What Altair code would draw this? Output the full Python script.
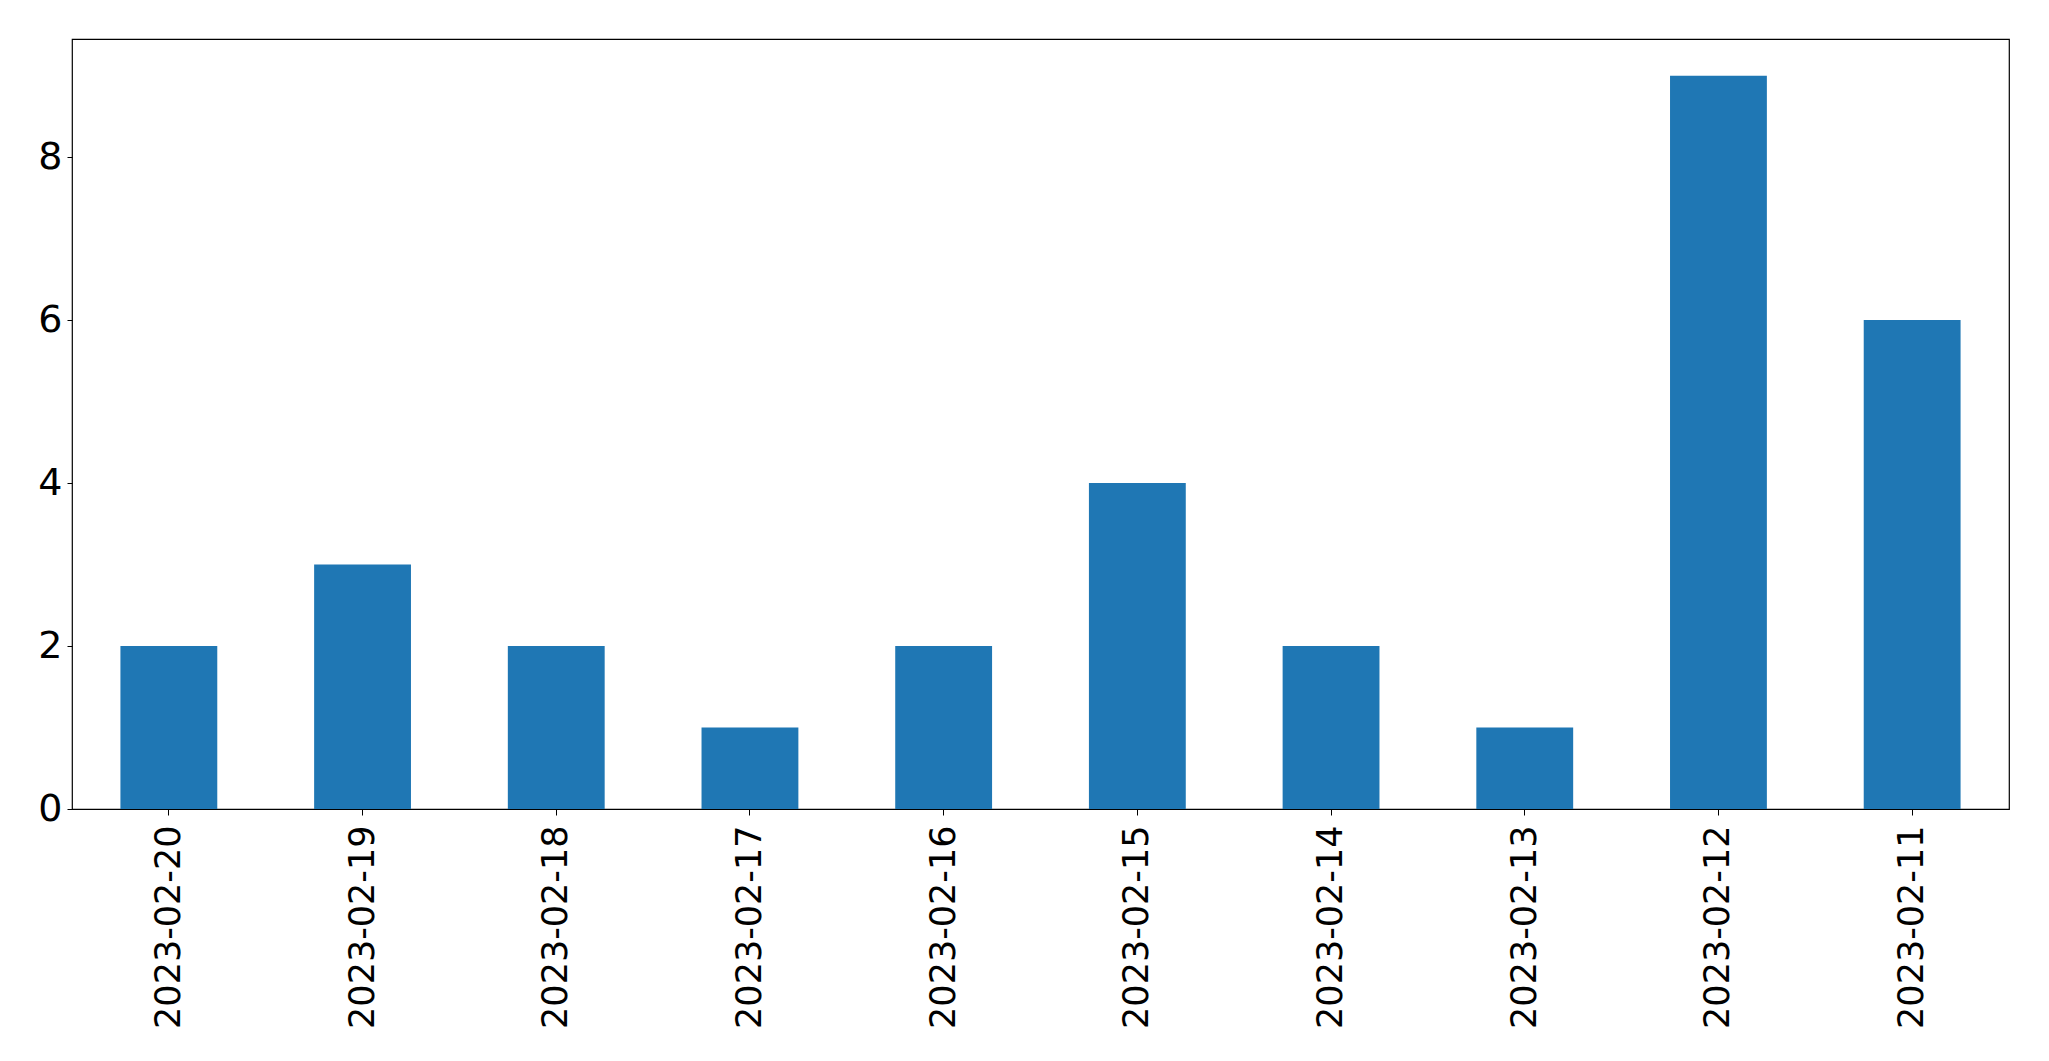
import altair as alt
import pandas as pd

dates = ["2023-02-20", "2023-02-19", "2023-02-18", "2023-02-17", "2023-02-16",
         "2023-02-15", "2023-02-14", "2023-02-13", "2023-02-12", "2023-02-11"]
counts = [2, 3, 2, 1, 2, 4, 2, 1, 9, 6]
y_ticks = [0, 2, 4, 6, 8]

df = pd.DataFrame({"date": dates, "count": counts})

chart = alt.Chart(df).mark_bar(color="#1f77b4").encode(
    x=alt.X("date:N", sort=dates, title=None,
            scale=alt.Scale(paddingInner=0.5, paddingOuter=0.25),
            axis=alt.Axis(labelAngle=-90, labelFontSize=35, labelFont="DejaVu Sans",
                          labelColor="black", tickColor="black", tickSize=6, tickWidth=1,
                          labelPadding=10, labelLimit=1000, labelOverlap=False,
                          domain=False, grid=False)),
    y=alt.Y("count:Q", title=None,
            scale=alt.Scale(domain=[0, 9.45], nice=False, zero=True),
            axis=alt.Axis(values=y_ticks, labelFontSize=38, labelFont="DejaVu Sans",
                          labelColor="black", tickColor="black", tickSize=5, tickWidth=1,
                          labelPadding=5, domain=False, grid=False)),
).properties(
    width=1937, height=770,
    autosize=alt.AutoSizeParams(type="none"),
    padding={"left": 64, "top": 31, "right": 30, "bottom": 240},
).configure_view(stroke="black", strokeWidth=1.2)

chart.save("out.html", embed_options={"renderer": "svg", "actions": False})
